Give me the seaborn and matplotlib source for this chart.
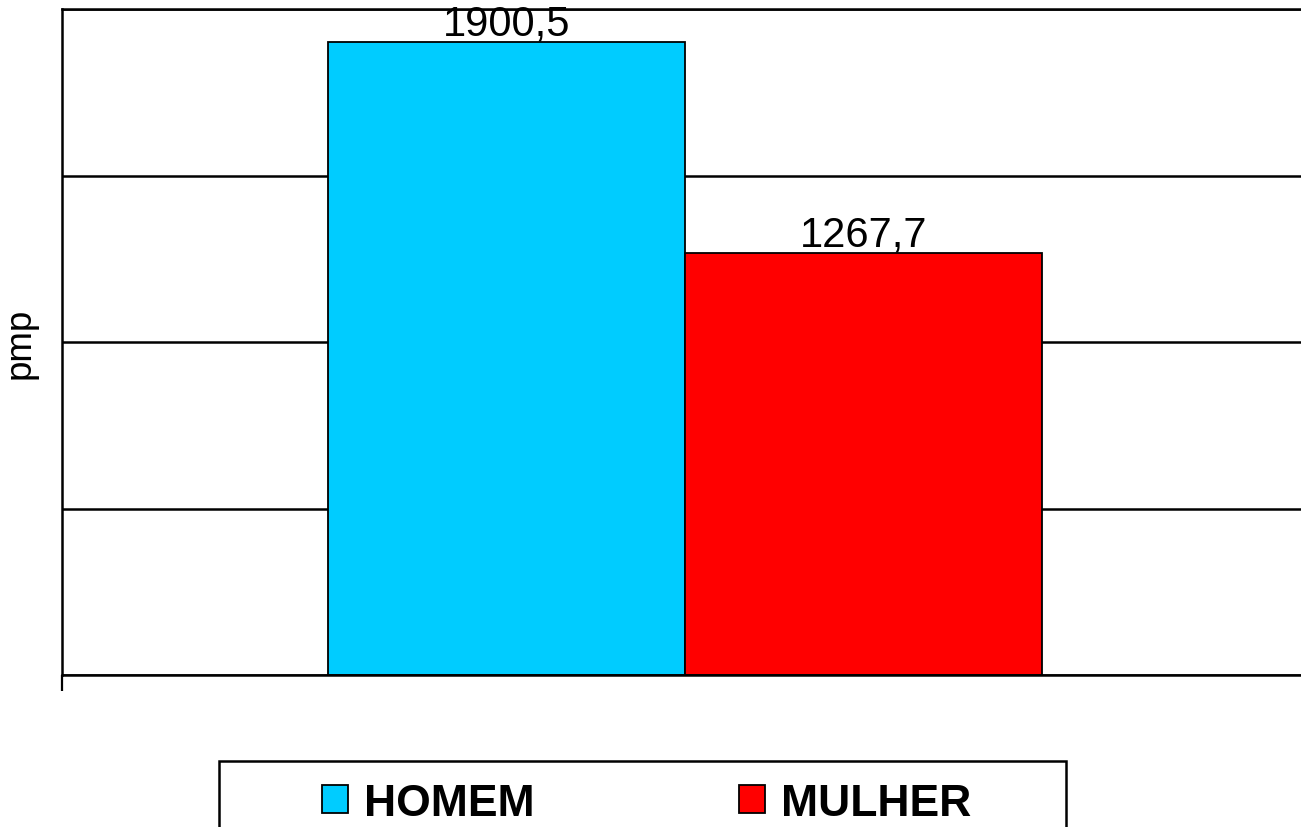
import matplotlib
matplotlib.use("Agg")
import matplotlib.pyplot as plt
import seaborn as sns
import pandas as pd
from matplotlib.patches import Rectangle

categories = ["HOMEM", "MULHER"]
values = [1900.5, 1267.7]
value_labels = ["1900,5", "1267,7"]
group = [""] * 2
y_ticks = [0, 500, 1000, 1500, 2000]
colors = ["#00CCFF", "#FF0000"]

sns.set_theme(style="white")
plt.rcParams["font.family"] = ["Liberation Sans", "DejaVu Sans"]
plt.rcParams["text.color"] = "black"

W, H = 1301, 828
fig = plt.figure(figsize=(W / 100, H / 100), dpi=100)
ax = fig.add_axes([62 / W, (H - 676) / H, (1308 - 62) / W, (676 - 10) / H])

df = pd.DataFrame({"grp": group, "sexo": categories, "pmp": values})
sns.barplot(data=df, x="grp", y="pmp", hue="sexo", palette=colors,
            width=0.573, edgecolor="black", linewidth=1.3, ax=ax,
            legend=False, saturation=1)

ax.set_xlim(-0.5, 0.5)
ax.set_ylim(y_ticks[0], y_ticks[-1])
ax.set_yticks(y_ticks)
ax.set_yticklabels([])
ax.tick_params(axis="y", length=0)
ax.yaxis.grid(True, color="black", linewidth=1.8)
ax.set_axisbelow(True)
ax.set_xticks([-0.5])
ax.set_xticklabels([""])
ax.tick_params(axis="x", length=11.5, width=1.6, color="black", direction="out", bottom=True)
for side in ["top", "bottom", "left"]:
    ax.spines[side].set_color("black")
    ax.spines[side].set_linewidth(1.8)
ax.spines["right"].set_visible(False)
ax.set_xlabel("")
ax.set_ylabel("pmp", fontsize=26.5, color="black", labelpad=14)

for cont, lab in zip(ax.containers, value_labels):
    ax.bar_label(cont, labels=[lab], padding=-1, fontsize=30, color="black")

# legend
handles = [Rectangle((0, 0), 1, 1, facecolor=c, edgecolor="black", linewidth=1.3) for c in colors]
leg = fig.legend(handles, categories, loc="upper left",
                 bbox_to_anchor=(322 / W, 1 - 784 / H), ncol=2, frameon=False,
                 prop={"size": 32, "weight": "bold"}, handlelength=0.58,
                 handleheight=0.58, handletextpad=0.36, columnspacing=4.6,
                 borderpad=0, borderaxespad=0, labelcolor="black")
fig.patches.append(Rectangle((219 / W, -0.05), (1066 - 219) / W, (H - 762) / H + 0.05,
                             transform=fig.transFigure, facecolor="none",
                             edgecolor="black", linewidth=1.8, clip_on=False))

fig.savefig("out.png", dpi=100)
